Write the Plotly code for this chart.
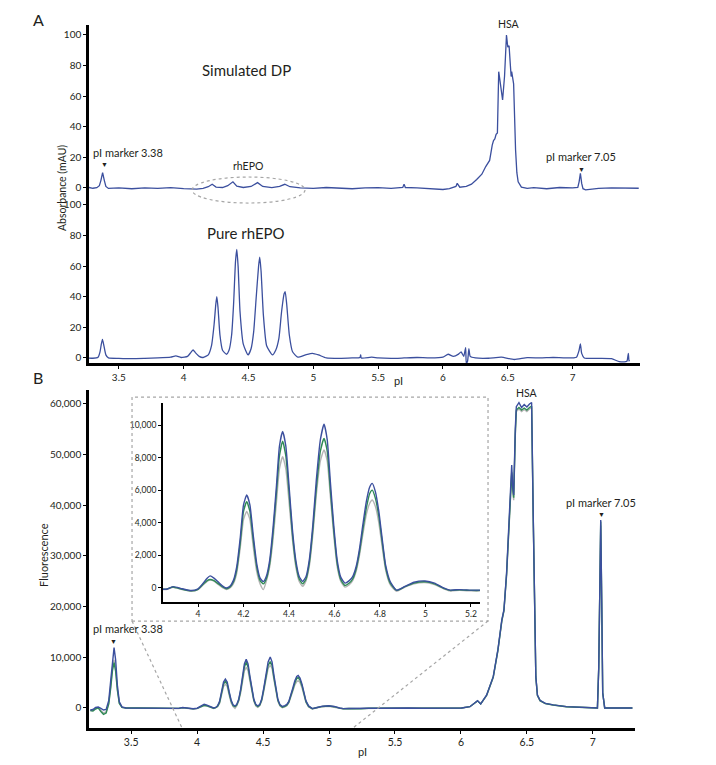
import plotly.graph_objects as go

# ---------------- Panel A : absorbance (mAU) ----------------
sim_pi = [
    3.27, 3.30, 3.33, 3.35, 3.362, 3.375, 3.388, 3.40, 3.42, 3.50,
    3.60, 3.70, 3.80, 3.90, 4.00, 4.10, 4.15, 4.19, 4.22, 4.25,
    4.30, 4.34, 4.38, 4.41, 4.46, 4.52, 4.57, 4.61, 4.68, 4.74,
    4.78, 4.82, 4.90, 5.00, 5.10, 5.20, 5.30, 5.40, 5.50, 5.60,
    5.69, 5.70, 5.71, 5.80, 5.90, 6.00, 6.05, 6.10, 6.11, 6.13,
    6.18, 6.22, 6.26, 6.30, 6.33, 6.36, 6.38, 6.39, 6.40, 6.41,
    6.42, 6.43, 6.44, 6.45, 6.46, 6.475, 6.49, 6.50, 6.51, 6.52,
    6.526, 6.53, 6.545, 6.56, 6.57, 6.58, 6.605, 6.65, 6.70, 6.80,
    6.90, 7.00, 7.04, 7.05, 7.06, 7.07, 7.08, 7.10, 7.20, 7.30,
    7.40, 7.51]
sim_mau = [
    0.3, -0.2, 0.2, 1.5, 5, 10, 5, 1, -0.3, 0,
    -0.5, 0, -0.3, 0.2, -0.5, -0.8, -0.3, 0.8, 2.4, 0.6,
    0.3, 1.5, 4.0, 1.2, 0.3, 1.0, 3.5, 1.0, 0.2, 1.0,
    2.4, 0.8, 0, -0.3, 0.3, 0, -0.5, 0, 0.2, -0.3,
    0.3, 2.5, 0.3, 0, -0.5, -1, -0.5, 1, 3, 0.5,
    1, 2.5, 5.5, 9, 14, 18, 28, 31, 32, 35,
    36, 76, 70, 65, 57.5, 73, 100, 92, 93, 80,
    72.8, 76, 68, 25, 10, 4, 0.5, -0.3, 0.2, -0.5,
    0.3, 0, 0.3, 4, 9.6, 3, -0.5, -1.2, -0.3, 0,
    -0.3, -0.2]

pure_pi = [
    3.263, 3.30, 3.34, 3.355, 3.365, 3.374, 3.385, 3.40, 3.42, 3.50,
    3.60, 3.70, 3.80, 3.90, 3.94, 3.98, 4.03, 4.055, 4.073, 4.09,
    4.12, 4.15, 4.19, 4.215, 4.235, 4.248, 4.256, 4.265, 4.28, 4.30,
    4.33, 4.35, 4.37, 4.385, 4.40, 4.41, 4.42, 4.435, 4.46, 4.497,
    4.52, 4.54, 4.56, 4.578, 4.587, 4.597, 4.615, 4.64, 4.685, 4.71,
    4.735, 4.755, 4.775, 4.783, 4.795, 4.815, 4.84, 4.88, 4.94, 4.993,
    5.04, 5.10, 5.20, 5.30, 5.36, 5.365, 5.37, 5.45, 5.50, 5.60,
    5.70, 5.80, 5.90, 6.00, 6.04, 6.08, 6.12, 6.14, 6.16, 6.175,
    6.18, 6.19, 6.20, 6.21, 6.25, 6.35, 6.45, 6.55, 6.65, 6.75,
    6.85, 6.95, 7.03, 7.05, 7.06, 7.07, 7.09, 7.20, 7.30, 7.36,
    7.41, 7.42, 7.43, 7.435, 7.44]
pure_mau = [
    0, -0.2, 0.5, 4, 9, 12.2, 8, 2, 0, -0.3,
    -0.5, -0.3, 0, 0.5, 1.3, 0.3, 1, 3.5, 5.2, 3.5,
    1, 0.3, 2, 8, 22, 35, 40, 33, 15, 5,
    2.4, 5, 15, 35, 63, 71, 60, 30, 9, 2,
    6, 17, 40, 60, 65.8, 57, 28, 8, 2, 5,
    13, 30, 42, 43.4, 35, 15, 4, 0.5, 2, 3,
    2, 0, -0.3, 0, 0.3, 2, 0, 0.5, 0, -0.3,
    0, 0.3, 0, 0.5, 2.4, 1, 2.5, 4, 1, 6.8,
    -3.5, -2, 6, 1, 0, -0.2, 0.5, -1, 0.2, 0,
    0.3, 0, 0.5, 5, 9.2, 3, 0, -0.3, -0.5, -2.4,
    -2.4, -2, 3, -2, -1.5]

a_xticks = [3.5, 4, 4.5, 5, 5.5, 6, 6.5, 7]
a_yticks = [0, 20, 40, 60, 80, 100]

# ---------------- Panel B : fluorescence ----------------
b_pi = [
    3.19, 3.21, 3.23, 3.25, 3.27, 3.29, 3.31, 3.33, 3.345, 3.358,
    3.37, 3.382, 3.395, 3.41, 3.43, 3.46,
    3.55, 3.65, 3.75, 3.82, 3.86, 3.89, 3.93, 3.97, 4.0, 4.02,
    4.04, 4.053, 4.07, 4.09, 4.11, 4.125,
    4.14, 4.155, 4.17, 4.185, 4.20, 4.214, 4.228, 4.243, 4.258, 4.273, 4.287,
    4.30, 4.315, 4.33, 4.345, 4.358, 4.372, 4.386, 4.40, 4.415, 4.43, 4.445, 4.46,
    4.475, 4.49, 4.505, 4.52, 4.538, 4.554, 4.568, 4.582, 4.597, 4.612, 4.628, 4.646,
    4.665, 4.68, 4.695, 4.71, 4.725, 4.74, 4.755, 4.766, 4.78, 4.795, 4.81, 4.825, 4.845, 4.873,
    4.91, 4.95, 4.998, 5.04, 5.08, 5.108, 5.15, 5.20, 5.24, 5.30, 5.40, 5.50, 5.60, 5.70, 5.80, 5.90, 6.005,
    6.068, 6.126, 6.15, 6.195, 6.245, 6.28, 6.31, 6.326, 6.346, 6.37,
    6.385, 6.392, 6.40, 6.412, 6.42, 6.44, 6.46, 6.48, 6.50, 6.52,
    6.536, 6.548, 6.558, 6.568, 6.58, 6.60, 6.64, 6.70, 6.80, 6.90,
    7.00, 7.035, 7.045, 7.052, 7.06, 7.068, 7.075, 7.09, 7.15, 7.22, 7.30]
b_blue = [
    -400, -300, 100, 200, -100, -400, -300, 1500, 5500, 9800,
    11900, 9500, 4500, 1200, 200, 0,
    0, -50, 0, -50, -80, 80, -50, -160, -50, 250,
    600, 740, 600, 350, 100, 0,
    100, 450, 1300, 3000, 5100, 5700, 5100, 3200, 1500, 600, 390,
    700, 1700, 3700, 6300, 8700, 9600, 8700, 6300, 3600, 1700, 700, 400,
    700, 1800, 3900, 6600, 9100, 10050, 9100, 6500, 3800, 1700, 650, 300,
    450, 700, 1300, 2400, 3900, 5300, 6200, 6420, 5900, 4700, 3000, 1400, 400, -130,
    100, 350, 430, 300, 0, -130, -100, -130, -130, -50, -50, 0, 0, -50, 0, 0, 0,
    250, 1450, 800, 2560, 6180, 11450, 17370, 19340, 26580, 38420,
    47960, 44000, 42040, 55000, 59460, 60250, 59300, 59900, 59400, 60000,
    60300, 38400, 18000, 6180, 2560, 1500, 900, 600, 260, 100,
    0, 0, 8000, 25000, 37100, 20000, 3000, 0, 0, 0, 0]
b_green = [
    -500, -600, -200, 0, -700, -1250, -1000, 800, 4000, 7400,
    8950, 7200, 3500, 900, 100, 0,
    0, -50, 0, -50, -80, 60, -80, -180, -80, 200,
    450, 520, 450, 250, 50, -50,
    50, 350, 1100, 2700, 4700, 5300, 4700, 2900, 1300, 450, 250,
    550, 1500, 3400, 5900, 8100, 9000, 8100, 5900, 3300, 1500, 550, 250,
    550, 1600, 3600, 6100, 8400, 9180, 8400, 6000, 3500, 1500, 500, 150,
    300, 550, 1150, 2200, 3600, 4900, 5800, 6000, 5500, 4400, 2800, 1250, 300, -150,
    80, 300, 380, 250, -30, -150, -120, -150, -150, -50, -50, 0, 0, -50, 0, 0, 0,
    250, 1400, 800, 2500, 6100, 11300, 17200, 19200, 26300, 38000,
    46500, 43500, 41500, 54000, 58800, 59300, 58800, 59200, 58800, 59300,
    59600, 38000, 17800, 6100, 2500, 1450, 880, 580, 250, 100,
    0, 0, 8000, 24500, 36800, 19800, 3000, 0, 0, 0, 0]
b_gray = [
    -500, -500, -100, 100, -500, -1000, -800, 1000, 4500, 8000,
    9500, 7800, 3800, 1000, 100, 0,
    0, -50, 0, -80, -100, 40, -100, -200, -100, 150,
    400, 480, 420, 200, 0, -100,
    0, 250, 900, 2400, 4200, 4700, 4200, 2500, 1000, 250, -100,
    400, 1300, 3000, 5300, 7300, 8050, 7300, 5300, 3000, 1300, 400, 100,
    450, 1400, 3300, 5700, 7800, 8470, 7800, 5600, 3200, 1300, 400, 50,
    200, 450, 1000, 2000, 3300, 4500, 5200, 5400, 5000, 4000, 2500, 1100, 200, -200,
    50, 250, 330, 200, -50, -180, -150, -180, -180, -50, -50, 0, 0, -50, 0, 0, 0,
    250, 1400, 800, 2450, 6000, 11200, 17100, 19100, 26000, 37600,
    46000, 43000, 41000, 53500, 58500, 59000, 58500, 58900, 58500, 59000,
    59300, 37800, 17600, 6000, 2450, 1400, 850, 560, 240, 100,
    0, 0, 7800, 24000, 36000, 19500, 2900, 0, 0, 0, 0]

b_xticks = [3.5, 4, 4.5, 5, 5.5, 6, 6.5, 7]
b_yticks = [0, 10000, 20000, 30000, 40000, 50000, 60000]
inset_xticks = [4, 4.2, 4.4, 4.6, 4.8, 5, 5.2]
inset_yticks = [0, 2000, 4000, 6000, 8000, 10000]

BLUE = "#3b4f9e"
GREEN = "#2f8a55"
GRAY = "#b4b4b4"
FONT = "Lato"
TXT = "#231f20"

fig = go.Figure()

fig.add_trace(go.Scatter(x=sim_pi, y=sim_mau, xaxis="x", yaxis="y", mode="lines",
                         line=dict(color=BLUE, width=1.3)))
fig.add_trace(go.Scatter(x=pure_pi, y=pure_mau, xaxis="x", yaxis="y2", mode="lines",
                         line=dict(color=BLUE, width=1.3, shape="spline", smoothing=0.5)))

for ax_x, ax_y, shp in (("x2", "y3", "linear"), ("x3", "y4", "spline")):
    for vals, col in ((b_gray, GRAY), (b_green, GREEN), (b_blue, BLUE)):
        line = dict(color=col, width=1.4, shape=shp)
        if shp == "spline":
            line["smoothing"] = 0.5
        fig.add_trace(go.Scatter(x=b_pi, y=vals, xaxis=ax_x, yaxis=ax_y, mode="lines",
                                 line=line))

axis_common = dict(showline=True, linecolor="black", showgrid=False, zeroline=False,
                   ticks="outside", ticklen=3, tickwidth=1, tickcolor="black",
                   tickfont=dict(family=FONT, size=10, color=TXT))

fig.update_layout(
    width=716, height=765,
    margin=dict(l=0, r=0, t=0, b=0),
    paper_bgcolor="white", plot_bgcolor="rgba(0,0,0,0)",
    showlegend=False,
    font=dict(family=FONT, color=TXT),
    xaxis=dict(axis_common, domain=[0.1243, 0.8939], range=[3.27, 7.52], anchor="y2",
               tickvals=a_xticks, linewidth=2.5),
    yaxis=dict(axis_common, domain=[0.7451, 0.9673], range=[-4.6, 106.5], anchor="x",
               tickvals=a_yticks, linewidth=2.5),
    yaxis2=dict(axis_common, domain=[0.5255, 0.7451], range=[-3.3, 106.5], anchor="x",
                tickvals=a_yticks, linewidth=2.5),
    xaxis2=dict(axis_common, domain=[0.1243, 0.8869], range=[3.18, 7.32], anchor="y3",
                tickvals=b_xticks, linewidth=2.5,
                tickfont=dict(family=FONT, size=10.5, color=TXT)),
    yaxis3=dict(axis_common, domain=[0.0484, 0.4902], range=[-3950, 62760], anchor="x2",
                tickvals=b_yticks, tickformat=",", linewidth=2.5,
                tickfont=dict(family=FONT, size=10, color=TXT)),
    xaxis3=dict(axis_common, domain=[0.2277, 0.6704], range=[3.846, 5.24], anchor="y4",
                tickvals=inset_xticks, linewidth=2,
                tickfont=dict(family=FONT, size=8.5, color=TXT)),
    yaxis4=dict(axis_common, domain=[0.2131, 0.4732], range=[-860, 11350], anchor="x3",
                tickvals=inset_yticks, tickformat=",", linewidth=2,
                tickfont=dict(family=FONT, size=8.5, color=TXT)),
)

dash_line = dict(color="#a6a6a6", width=1.2, dash="3px,3px")
fig.add_shape(type="circle", xref="paper", yref="paper",
              x0=0.2682, x1=0.4260, y0=0.7346, y1=0.7686, line=dash_line)
fig.add_shape(type="rect", xref="paper", yref="paper",
              x0=0.1844, x1=0.6816, y0=0.1882, y1=0.4810, line=dash_line)
fig.add_shape(type="line", xref="paper", yref="paper",
              x0=0.1844, y0=0.1882, x1=0.2542, y1=0.0484, line=dash_line)
fig.add_shape(type="line", xref="paper", yref="paper",
              x0=0.6816, y0=0.1882, x1=0.4930, y1=0.0484, line=dash_line)

def label(text, x, y, size=11, angle=0):
    fig.add_annotation(text=text, x=x, y=y, xref="paper", yref="paper",
                       xanchor="center", yanchor="middle", showarrow=False,
                       textangle=angle, font=dict(family=FONT, size=size, color=TXT))

label("A", 0.0531, 0.9739, 16)
label("B", 0.0531, 0.5059, 16)
label("Simulated DP", 0.3436, 0.9085, 15)
label("Pure rhEPO", 0.3436, 0.6954, 15)
label("pI marker 3.38", 0.1788, 0.8000, 11)
label("▼", 0.1453, 0.7856, 7)
label("rhEPO", 0.3464, 0.7830, 10.5)
label("HSA", 0.7109, 0.9686, 10.5)
label("pI marker 7.05", 0.8115, 0.7948, 11)
label("▼", 0.8128, 0.7791, 7)
label("Absorbance (mAU)", 0.0866, 0.7542, 10.5, -90)
label("pI", 0.5559, 0.5020, 11)
label("Fluorescence", 0.0600, 0.2745, 11, -90)
label("pI", 0.5056, 0.0183, 11)
label("pI marker 3.38", 0.1788, 0.1778, 11)
label("▼", 0.1592, 0.1621, 7)
label("HSA", 0.7360, 0.4863, 10.5)
label("pI marker 7.05", 0.8394, 0.3425, 11)
label("▼", 0.8394, 0.3281, 7)

fig.write_html("out.html", config={"displayModeBar": False},
               post_script="document.body.style.margin='0px';document.body.style.overflow='hidden';")
